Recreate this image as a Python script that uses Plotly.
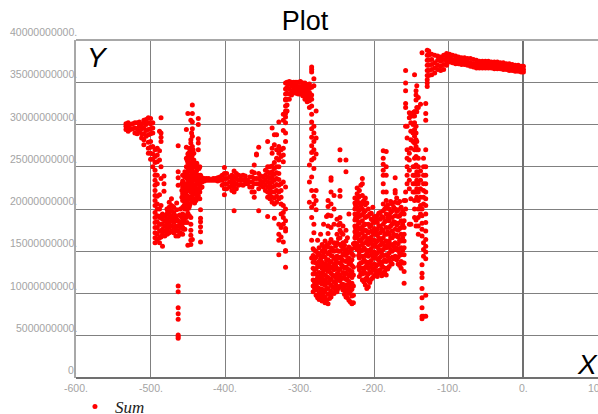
import plotly.graph_objects as go

TITLE = "Plot"
SERIES = "Sum"
X_TICKS = [-600, -500, -400, -300, -200, -100, 0, 100]
X_LABELS = ["-600.", "-500.", "-400.", "-300.", "-200.", "-100.", "0.", "100."]
Y_TICKS = [0, 5e9, 10e9, 15e9, 20e9, 25e9, 30e9, 35e9, 40e9]
Y_LABELS = ["0.", "5000000000.", "10000000000.", "15000000000.", "20000000000.",
            "25000000000.", "30000000000.", "35000000000.", "40000000000."]

# Values, y in billions, grouped as columns: one x, many y.
start_x = [-533, -530, -527, -524, -521, -518, -515, -512, -509, -506, -503, -500, -497]
start_y = [[29.4, 29.8, 30.1], [29.2, 29.7, 30.2], [29.4, 30.0], [29.5, 30.1], [29.0, 29.6, 30.2],
           [28.9, 29.5, 30.2], [29.2, 29.8, 30.3], [28.4, 28.9, 29.5, 30.0],
           [27.6, 28.2, 28.9, 29.6, 30.2, 30.5], [28.6, 29.3, 30.0, 30.6], [28.8, 29.4, 30.2, 30.8],
           [28.9, 29.5, 30.1, 30.7], [29.0, 29.6, 30.2]]

fall_x = [-503, -500, -497, -494, -491, -488, -486, -484, -481, -478, -475, -472, -469, -466, -463, -460, -457, -454, -451]
fall_y = [[27.9, 27.2, 26.6], [28.0, 27.3, 26.6, 25.9], [27.4, 26.5, 25.9, 25.0],
          [27.0, 26.2, 25.5, 24.6, 24.0, 23.4, 22.8, 22.2, 21.6, 21.0, 20.4, 19.6, 19.0, 18.4, 17.8, 17.2, 16.6, 16.0],
          [27.2, 26.4, 25.6, 24.0, 23.0, 21.5, 20.6, 20.0, 19.2, 18.5, 17.8, 17.0, 16.4],
          [29.2, 26.9, 25.8, 21.7, 20.0, 19.0, 18.2, 17.4, 16.6, 16.0],
          [30.8, 29.0, 28.5, 28.0, 25.0, 23.6, 20.4, 19.2, 18.2, 17.4, 16.7],
          [15.6, 17.0, 17.6, 18.2, 18.8, 19.4], [16.8, 17.4, 18.0, 18.6, 19.2],
          [17.0, 17.6, 18.2, 18.8, 19.4, 20.0], [17.2, 17.8, 18.4, 19.0, 19.6, 20.2, 20.8],
          [17.4, 18.0, 18.6, 19.2, 19.8, 20.4, 21.2], [17.2, 17.8, 18.4, 19.0, 19.6, 20.2],
          [16.8, 17.4, 18.0, 18.6, 19.2], [10.9, 10.2, 8.3, 7.6, 6.95, 5.1, 4.9, 4.7, 16.8, 17.4, 18.0, 18.6, 27.5, 24.4, 23.7, 22.8],
          [17.2, 17.8, 18.4, 19.2, 20.0], [17.0, 17.8, 18.6, 19.4, 20.2, 21.0, 21.8, 22.6, 23.3, 24.0],
          [17.6, 18.4, 19.2, 20.0, 20.8, 21.5, 22.2, 23.0, 23.8, 24.4], [18.4, 19.2, 20.0, 20.8, 21.5, 22.2, 22.9, 23.6, 24.3, 25.0, 25.8]]

bump_x = [-452, -450, -448, -446, -444, -442, -440, -438, -436, -434, -433, -431]
bump_y = [[19.0, 20.0, 21.0, 22.0, 23.0, 24.0, 25.0, 26.0, 27.3, 29.4],
          [15.7, 19.5, 20.5, 21.5, 22.5, 23.5, 24.5, 25.5, 26.5, 31.3],
          [19.2, 20.3, 21.4, 22.3, 23.1, 23.9, 24.7, 25.5, 26.3, 27.2],
          [15.8, 16.3, 16.9, 17.5, 18.2, 19.0, 21.2, 22.0, 22.8, 23.6, 24.4, 25.2, 26.0, 26.8, 27.8, 28.2, 30.5],
          [16.4, 21.6, 22.4, 23.2, 24.0, 24.8, 25.6, 26.4, 27.4, 28.6, 29.5, 30.3, 31.3, 32.3],
          [21.2, 22.0, 22.8, 23.5, 24.2, 25.0, 25.8, 26.6],
          [21.8, 22.6, 23.4, 24.2, 25.0],
          [21.4, 22.2, 23.0, 23.8, 24.6, 25.4],
          [21.6, 22.4, 23.2, 24.0, 27.0, 27.8, 28.3, 30.0, 30.7],
          [21.2, 22.0, 22.8, 23.6, 25.0],
          [16.1, 17.3, 17.9, 18.5, 18.9, 19.9, 22.5, 23.4, 24.0],
          [22.6, 23.2, 23.7]]

plateau_x = [-428, -425, -422, -419, -416, -413, -410, -407, -404, -401, -398]
plateau_y = [[23.3, 23.6], [23.4, 23.6], [23.4, 23.6], [23.4], [23.4, 23.6], [23.4, 23.6], [23.3, 23.7],
             [23.4, 23.8], [22.8, 23.4, 24.0], [21.7, 22.4, 23.0, 23.6, 24.2, 24.9], [22.4, 23.0, 23.6, 24.2]]

noisy_x = [-394, -391, -388, -385, -382, -379, -376, -373, -370, -367, -364, -361, -358, -355, -352, -349, -346,
           -343, -340, -337, -334, -331, -328, -325, -322, -319]
noisy_y = [[22.6, 23.2, 23.8], [22.2, 22.8, 23.4, 24.0], [19.8, 22.0, 22.6, 23.2, 23.8, 24.5],
           [22.4, 23.0, 23.6, 24.2], [22.8, 23.4, 24.0], [22.9, 23.4, 23.9], [22.8, 23.4, 24.0],
           [23.0, 23.5, 23.9], [23.0, 23.4], [22.6, 23.2, 23.8], [22.0, 22.6, 23.2, 23.8, 24.4],
           [21.4, 22.0, 23.0, 23.6, 24.3, 25.2], [23.0, 23.6, 26.4, 26.5], [19.8, 22.4, 23.0, 23.6, 24.2, 27.3],
           [22.8, 23.3, 23.9], [22.6, 23.2, 23.8], [22.2, 22.8, 23.4, 24.0, 24.6],
           [19.1, 21.4, 22.0, 22.6, 23.2, 23.8, 24.4, 25.0, 28.0], [21.2, 21.8, 22.4, 23.0, 23.6, 24.2, 25.0],
           [20.8, 21.4, 22.0, 22.6, 23.2, 23.8, 24.4, 25.1, 26.6, 27.2, 29.6], [18.9, 20.6, 21.3, 22.0, 22.7, 23.4, 24.1, 24.8, 25.5, 27.6, 28.8],
           [20.8, 21.5, 22.2, 22.9, 23.6, 24.3, 25.0, 26.0, 27.0, 28.8], [16.3, 17.0, 18.2, 14.6, 21.2, 22.0, 22.8, 23.5, 24.2, 25.0, 25.8, 26.6, 27.4, 30.3],
           [16.7, 17.8, 19.4, 20.6, 21.4, 22.2, 23.0, 26.2, 27.0], [16.1, 18.2, 19.0, 19.6, 20.4, 23.2, 25.6, 26.4, 27.2, 29.3, 30.5, 31.2],
           [13.1, 15.0, 15.1, 17.4, 17.7, 18.6, 20.0, 22.6, 28.0, 29.0, 31.3, 32.2, 32.9, 33.6]]

hump_x = [-319, -317, -314, -311, -308, -305, -302, -299, -296, -293, -290, -287, -284, -281, -278]
hump_y = [[30.2, 30.9, 31.6, 33.0, 34.2, 34.9], [31.6, 32.3, 33.0, 33.7, 34.4, 35.0], [33.0, 33.6, 34.2, 34.8, 35.1], [33.5, 34.0, 34.6, 35.0],
          [33.8, 34.2, 34.7, 35.0], [33.7, 34.1, 34.6, 35.0], [33.6, 34.1, 34.5, 35.0], [33.6, 34.0, 34.5, 35.1],
          [33.4, 33.9, 34.4, 34.9], [33.0, 33.5, 34.0, 34.5, 34.9], [32.7, 33.2, 33.7, 34.2, 34.7],
          [25.2, 23.2, 20.8, 32.0, 32.8, 33.3, 33.8, 34.3, 34.8], [16.3, 14.2, 19.0, 20.2, 22.2, 23.8, 25.8, 26.7, 27.5, 28.5, 29.5, 30.3, 31.2, 32.2, 33.0, 33.5, 34.4, 36.2, 36.5, 36.8],
          [17.2, 18.2, 20.6, 21.5, 24.8, 26.0, 27.0, 28.0, 29.0, 29.8, 34.6, 35.4], [19.9, 21.0, 26.5, 28.4, 31.6, 22.2]]

mass_x = [-282, -278, -274, -270, -266, -262, -258, -254, -250, -246, -242, -238, -234, -230, -226, -223,
          -220, -216, -212, -208, -204, -200, -196, -192, -188, -184, -180, -176, -172, -168, -164, -160]
mass_y = [[10.2, 10.9, 11.6, 12.3, 13.0, 13.7, 14.5, 15.3],
          [9.8, 10.4, 11.0, 11.6, 12.3, 12.9, 13.6, 14.3, 15.0],
          [9.3, 10.0, 10.6, 11.3, 11.9, 12.5, 13.2, 13.8, 14.6, 15.4],
          [9.1, 9.8, 10.5, 11.1, 11.8, 12.4, 13.0, 13.7, 14.4, 15.0, 15.8],
          [8.9, 9.6, 10.3, 11.0, 11.6, 12.2, 12.9, 13.5, 14.3, 15.1, 16.2],
          [8.8, 9.9, 10.6, 11.2, 11.9, 12.6, 13.3, 14.0, 14.7, 15.5, 17.1, 18.0, 19.3, 20.3, 21.0],
          [9.6, 10.3, 11.0, 11.7, 12.4, 13.1, 13.8, 14.5, 15.4, 16.4, 17.8, 19.2, 20.6, 22.0, 23.4, 23.7],
          [10.0, 10.7, 11.4, 12.1, 12.8, 13.5, 14.2, 15.0, 16.0, 18.2, 20.0, 21.6],
          [10.2, 10.9, 11.6, 12.3, 13.0, 13.7, 14.4, 15.1, 16.0, 17.0, 18.8],
          [10.8, 11.5, 12.2, 12.9, 13.6, 14.3, 15.0, 15.8, 16.6, 17.5, 18.3, 19.0, 21.5, 22.2, 25.8, 27.0],
          [10.4, 11.1, 11.8, 12.5, 13.2, 13.9, 14.6, 15.3, 16.0, 17.0, 18.0],
          [9.6, 10.3, 11.0, 11.7, 12.4, 13.1, 13.8, 14.5, 15.2, 16.2, 17.5, 24.4, 25.8],
          [9.2, 10.0, 10.7, 11.4, 12.1, 12.8, 13.5, 14.2, 14.9, 15.5, 19.4],
          [8.8, 9.7, 10.5, 11.2, 11.9, 12.6, 13.3, 14.0, 14.7, 15.3],
          [15.4, 16.0, 16.6, 17.3, 18.0, 18.7, 19.4, 20.0, 20.7, 21.3],
          [15.2, 15.9, 16.6, 17.3, 18.0, 18.7, 19.4, 20.2, 21.0, 21.8, 22.5],
          [12.0, 12.8, 13.5, 14.2, 14.9, 15.6, 16.3, 17.0, 17.7, 18.4, 19.1, 19.9, 20.7, 21.5, 22.2],
          [11.6, 12.3, 13.0, 13.7, 14.4, 15.1, 15.8, 16.5, 17.2, 17.9, 18.6, 19.3, 20.0, 20.8, 21.6, 23.0, 23.6],
          [11.0, 11.7, 12.4, 13.1, 13.8, 14.5, 15.2, 16.0, 16.8, 17.5, 18.2, 19.0, 19.8, 20.5, 21.3],
          [10.8, 11.5, 12.3, 13.0, 13.7, 14.4, 15.1, 15.8, 16.5, 17.2, 18.2, 19.2, 20.0],
          [11.7, 12.5, 13.2, 13.9, 14.6, 15.3, 16.0, 16.7, 17.4, 18.1, 18.8, 19.5],
          [12.1, 12.8, 13.5, 14.2, 14.9, 15.6, 16.3, 17.0, 17.7, 18.4, 19.1],
          [12.0, 12.7, 13.4, 14.1, 14.8, 15.5, 16.2, 16.9, 17.6, 18.4, 19.2],
          [12.8, 13.5, 14.3, 15.0, 15.7, 16.4, 17.2, 18.0, 18.8, 19.6],
          [12.4, 13.1, 13.8, 14.5, 15.2, 15.9, 16.6, 17.4, 18.2, 19.0, 19.8, 20.6, 22.0, 23.0, 24.0, 24.6, 25.3, 26.0, 26.9],
          [12.2, 13.0, 13.8, 14.6, 15.4, 16.2, 17.0, 17.8, 18.6, 19.4, 20.2, 21.0, 22.0, 24.0, 25.0, 26.8],
          [13.2, 14.0, 14.8, 15.5, 16.2, 17.0, 17.8, 18.6, 19.3, 20.0],
          [13.5, 14.3, 15.0, 15.8, 16.6, 17.4, 18.2, 19.0, 19.8, 20.6],
          [14.4, 15.2, 16.0, 16.8, 17.6, 18.4, 19.2, 20.0, 20.8, 21.9, 22.2, 23.7],
          [13.5, 14.3, 15.1, 15.9, 16.7, 17.5, 18.3, 19.1, 19.9, 20.7],
          [13.0, 13.8, 14.6, 15.4, 16.2, 17.0, 17.8, 18.6, 19.4, 20.2],
          [11.2, 12.6, 13.6, 14.6, 15.4, 16.2, 17.0, 17.8, 18.6, 19.4, 21.0]]

# Second pass through the crowded parts, at the x values between those above.
fill_x = [-280, -276, -272, -268, -264, -260, -256, -252, -248, -244, -240, -236, -232, -228, -225, -221,
          -218, -214, -210, -206, -202, -198, -194, -190, -186, -182, -178, -174, -170, -166, -162,
          -458, -455, -449, -447, -445, -443, -441, -439, -437, -435, -482, -477, -470, -465, -461, -456]
fill_y = [[10.6, 11.3, 12.8, 14.1, 15.1], [9.5, 10.7, 11.9, 13.2, 14.8, 16.3], [9.6, 10.2, 11.5, 12.1, 13.5, 14.1, 17.0],
          [9.3, 10.1, 11.4, 12.7, 13.4, 14.8, 15.5, 18.2], [9.2, 10.6, 11.3, 12.0, 13.1, 13.9, 15.7, 19.1],
          [9.4, 10.0, 11.5, 12.9, 13.6, 14.9, 16.0], [10.1, 10.8, 12.2, 13.0, 14.4, 15.2], [10.4, 11.2, 11.9, 13.3, 14.0, 15.6],
          [10.6, 12.0, 12.7, 14.2, 15.0, 16.5, 18.1], [11.0, 11.8, 13.4, 14.1, 15.6, 17.2], [9.9, 10.7, 12.2, 13.0, 14.8, 15.7],
          [9.5, 10.4, 11.6, 12.9, 14.0, 14.8, 16.6], [9.0, 10.3, 11.1, 12.4, 13.7, 15.1], [8.9, 9.8, 10.9, 12.2, 13.1, 14.5, 15.9],
          [15.7, 16.9, 17.7, 19.0, 20.4], [13.2, 14.5, 15.4, 16.9, 18.3, 19.8, 21.4], [12.4, 13.6, 15.1, 16.2, 17.6, 19.3, 20.4, 22.8],
          [11.4, 12.7, 14.0, 15.4, 16.7, 18.1, 19.6, 21.0], [10.6, 11.9, 13.4, 14.8, 16.2, 17.4, 19.1, 20.7], [11.3, 12.6, 13.6, 15.0, 16.4, 17.9, 19.4],
          [11.9, 12.9, 14.4, 15.7, 17.2, 18.6, 20.2], [12.3, 13.2, 14.6, 16.0, 17.3, 18.8], [12.4, 13.9, 15.2, 16.6, 18.0, 19.5],
          [12.1, 13.3, 14.7, 16.1, 17.6, 19.1], [12.6, 14.0, 15.6, 17.0, 18.5, 20.0], [12.9, 14.4, 15.9, 17.3, 19.0, 20.5],
          [13.7, 15.2, 16.6, 18.0, 19.6, 20.9], [14.1, 15.6, 17.0, 18.5, 20.2], [14.0, 15.4, 16.9, 18.1, 19.7, 21.3],
          [13.3, 14.7, 16.3, 17.7, 19.2, 20.9], [13.6, 15.1, 16.6, 18.2, 19.8],
          [18.2, 19.0, 21.4, 22.2, 23.0], [18.8, 20.4, 21.3, 22.6, 24.0], [20.1, 21.2, 22.6, 23.4, 24.9, 26.6], [20.6, 22.2, 23.8, 25.1, 26.9],
          [20.9, 22.4, 23.3, 24.6, 26.1, 29.0], [22.0, 23.7, 25.3, 27.0], [20.7, 22.5, 23.6, 25.4], [21.0, 22.9, 24.4], [21.7, 23.1, 24.9], [22.2, 23.5, 24.8], [22.1, 23.0, 23.9],
          [17.1, 18.4, 19.7], [17.3, 18.9, 20.3], [17.5, 18.8, 19.9, 20.7], [17.0, 18.2, 19.3], [17.6, 18.7], [17.4, 19.1, 20.6]]

spire_x = [-158, -156, -153, -151, -148, -146, -144, -143, -141, -138, -136, -134, -131, -129]
spire_y = [[20.0, 21.0, 22.0, 32.0, 32.5, 34.0, 34.9, 36.4, 29.8],
           [23.0, 24.0, 25.0, 26.0, 27.0, 28.4, 29.8],
           [18.2, 22.4, 23.4, 24.6, 25.8, 26.6, 31.4, 30.8],
           [18.2, 21.2, 27.2, 28.2, 29.2, 30.2, 31.0],
           [22.0, 23.0, 24.0, 25.0, 28.0, 29.0, 30.0, 31.0, 31.4],
           [19.0, 20.0, 21.0, 22.0, 23.0, 24.0, 25.0, 26.0, 27.0, 27.8, 28.6, 29.4, 30.2, 31.0, 31.5, 31.5, 35.9],
           [18.0, 18.7, 22.0, 23.0, 24.0, 25.2, 26.2, 27.4, 28.2, 29.0, 29.8, 32.9, 33.5, 34.0],
           [21.4, 22.4, 23.4, 24.4, 27.0, 28.0, 31.5, 32.0, 34.6],
           [17.0, 18.0, 19.0, 20.0, 21.0, 22.0, 23.0, 24.0, 25.0, 26.0, 27.0, 33.2, 32.0],
           [19.4, 20.4, 21.4, 22.4, 23.4, 32.4, 24.5],
           [7.0, 7.3, 8.3, 9.5, 10.6, 11.9, 12.4, 13.4, 16.8, 17.6, 18.3, 19.2, 20.0, 38.5],
           [7.3, 14.4, 15.2, 16.0, 20.6, 21.4, 22.2, 23.0, 24.0, 25.0, 26.0],
           [7.3, 9.8, 14.1, 14.9, 15.6, 16.4, 17.4, 18.4, 19.4, 20.4, 21.2, 22.0, 23.0, 24.0, 25.0, 27.0, 30.5, 31.3, 32.5],
           [34.5, 34.9, 35.3, 35.8, 36.4, 37.0, 37.6, 38.2, 38.8]]

band_x = [-127, -123, -119, -115, -111, -107, -103, -99, -95, -91, -87, -83, -79, -75, -71, -67, -63, -59,
          -55, -51, -47, -43, -39, -35, -31, -27, -23, -19, -15, -11, -7, -3, 0]
band_y = [[35.8, 36.4, 37.0, 37.6, 38.2, 38.7], [35.9, 36.5, 37.1, 37.7, 38.3], [36.1, 36.7, 37.3, 38.2],
          [36.5, 37.0, 37.6, 38.1], [36.4, 36.9, 37.5, 38.0], [36.5, 37.1, 37.7, 38.2], [37.0, 37.5, 38.0, 38.4],
          [37.4, 37.9, 38.3], [37.3, 37.7, 38.2], [37.2, 37.6, 38.1], [37.2, 37.6, 38.0], [37.1, 37.5, 37.9],
          [37.1, 37.5, 37.9], [37.0, 37.4, 37.8], [36.9, 37.3, 37.8], [36.8, 37.2, 37.7], [36.7, 37.2, 37.6],
          [36.7, 37.1, 37.5], [36.7, 37.1, 37.5], [36.7, 37.1, 37.5], [36.7, 37.1, 37.5], [36.7, 37.0, 37.4],
          [36.6, 37.0, 37.4], [36.6, 37.0, 37.4], [36.6, 36.9, 37.3], [36.5, 36.9, 37.3], [36.5, 36.8, 37.2],
          [36.4, 36.8, 37.2], [36.4, 36.7, 37.1], [36.3, 36.7, 37.0], [36.3, 36.6, 37.0], [36.2, 36.6, 36.9],
          [36.2, 36.5, 36.9]]

groups = [(start_x, start_y), (fall_x, fall_y), (bump_x, bump_y), (plateau_x, plateau_y), (noisy_x, noisy_y),
          (hump_x, hump_y), (mass_x, mass_y), (fill_x, fill_y), (spire_x, spire_y), (band_x, band_y)]
sum_x, sum_y = [], []
for xs, columns in groups:
    for x, column in zip(xs, columns):
        for v in column:
            sum_x.append(x)
            sum_y.append(v * 1e9)

fig = go.Figure(go.Scatter(x=sum_x, y=sum_y, mode="markers", name="<i>" + SERIES + "</i>",
                           marker=dict(color="#ff0000", size=5, line=dict(width=0))))

GRAY_TEXT = dict(family="Arial, Liberation Sans", size=10.5, color="#a4a4a4")
annotations = []
for v, label in zip(Y_TICKS, Y_LABELS):
    annotations.append(dict(x=-600, y=v, xref="x", yref="y", text=label, showarrow=False, xanchor="right",
                            yanchor="middle", xshift=3, yshift=8, font=GRAY_TEXT))
for v, label in zip(X_TICKS, X_LABELS):
    annotations.append(dict(x=v, y=0, xref="x", yref="y", text=label, showarrow=False, xanchor="center",
                            yanchor="middle", yshift=-10, font=GRAY_TEXT))
annotations.append(dict(x=(97 - 76) / 522, y=(378 - 57) / 338, xref="paper", yref="paper", xanchor="center", yanchor="middle",
                        text="<i>Y</i>", showarrow=False, font=dict(family="Arial, Liberation Sans", size=28, color="#000000")))
annotations.append(dict(x=(587 - 76) / 522, y=(378 - 364) / 338, xref="paper", yref="paper", xanchor="center", yanchor="middle",
                        text="<i>X</i>", showarrow=False, font=dict(family="Arial, Liberation Sans", size=28, color="#000000")))

fig.update_layout(
    width=598, height=414, margin=dict(l=76, r=0, t=40, b=36, autoexpand=False),
    paper_bgcolor="#ffffff", plot_bgcolor="#ffffff",
    title=dict(text=TITLE, x=305 / 598, xanchor="center", y=1 - 21 / 414, yanchor="middle",
               font=dict(family="Arial, Liberation Sans", size=27, color="#000000")),
    showlegend=True,
    legend=dict(x=-0.002, y=(378 - 407) / 338, xanchor="left", yanchor="middle", bgcolor="rgba(0,0,0,0)",
                font=dict(family="Liberation Serif", size=17, color="#222222"), itemwidth=30),
    annotations=annotations,
    shapes=[dict(type="line", xref="paper", yref="paper", x0=0, x1=1, y0=1, y1=1, line=dict(color="#a8a8a8", width=2))],
    xaxis=dict(range=[-600, 100], tickvals=X_TICKS, showticklabels=False, ticks="", showgrid=True, gridcolor="#808080",
               gridwidth=1, zeroline=True, zerolinecolor="#707070", zerolinewidth=2, showline=False),
    yaxis=dict(range=[0, 40e9], tickvals=Y_TICKS, showticklabels=False, ticks="", showgrid=True, gridcolor="#808080",
               gridwidth=1, zeroline=True, zerolinecolor="#707070", zerolinewidth=2,
               showline=True, linecolor="#a8a8a8", linewidth=2),
)
fig.write_html("out.html", config={"displayModeBar": False}, post_script="document.body.style.margin='0';")
